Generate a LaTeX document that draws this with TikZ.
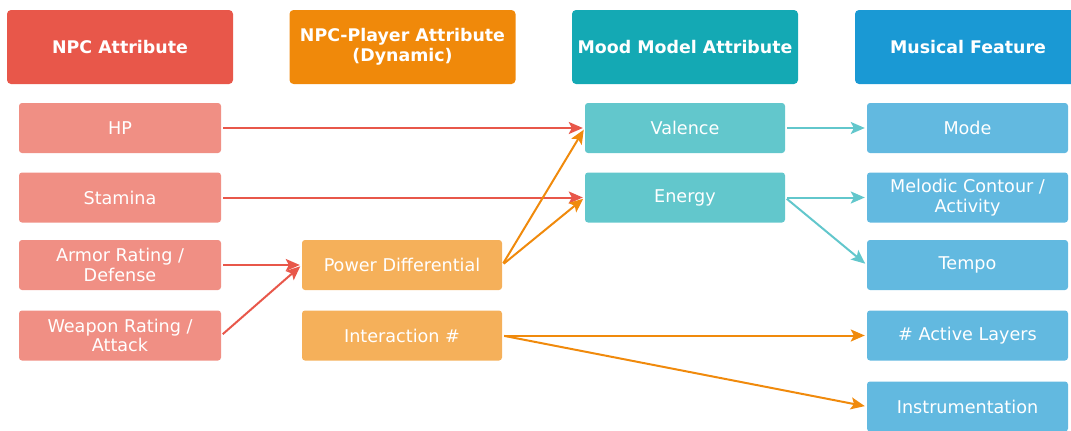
\documentclass[tikz,border=0pt]{standalone}
\usepackage{fontspec}
\setmainfont{DejaVu Sans}
\usetikzlibrary{arrows.meta}
\definecolor{npcHead}{HTML}{E8574A}
\definecolor{npcBox}{HTML}{F08F84}
\definecolor{dynHead}{HTML}{F0890A}
\definecolor{dynBox}{HTML}{F5B05A}
\definecolor{moodHead}{HTML}{14A9B4}
\definecolor{moodBox}{HTML}{62C7CC}
\definecolor{musHead}{HTML}{1A99D4}
\definecolor{musBox}{HTML}{62B9E0}
\definecolor{redLink}{HTML}{E8574A}
\definecolor{orangeLink}{HTML}{F08A0C}
\definecolor{tealLink}{HTML}{62C7CC}
\begin{document}
\begin{tikzpicture}[x=1pt,y=-1pt,
  head/.style={rectangle, rounded corners=4pt, minimum width=226pt, minimum height=74pt,
    text=white, font=\fontsize{17.4}{20}\selectfont\bfseries, align=center, inner sep=0pt},
  item/.style={rectangle, rounded corners=3pt, minimum width=202pt, minimum height=50pt,
    text=white, font=\fontsize{17.6}{19.5}\selectfont, align=center, inner sep=0pt},
  link/.style={line width=2pt, -{Stealth[length=14pt,width=12pt,inset=3pt]},
    shorten >=2pt, shorten <=2pt},
]
\useasboundingbox (0,0) rectangle (1071,431);

% column headers
\node[head, fill=npcHead]  (hNpc)  at (120,47)   {NPC Attribute};
\node[head, fill=dynHead]  (hDyn)  at (402.5,47) {NPC-Player Attribute\\(Dynamic)};
\node[head, fill=moodHead] (hMood) at (685,47)   {Mood Model Attribute};
\node[head, fill=musHead]  (hMus)  at (968,47)   {Musical Feature};

% NPC attributes
\node[item, fill=npcBox] (hp)      at (120,128)   {HP};
\node[item, fill=npcBox] (stamina) at (120,197.5) {Stamina};
\node[item, fill=npcBox] (armor)   at (120,265)   {Armor Rating /\\Defense};
\node[item, fill=npcBox] (weapon)  at (120,335.5) {Weapon Rating /\\Attack};

% NPC-player attributes
\node[item, fill=dynBox, minimum width=200pt] (power)    at (402,265)   {Power Differential};
\node[item, fill=dynBox, minimum width=200pt] (interact) at (402,335.5) {Interaction \#};

% mood model
\node[item, fill=moodBox, minimum width=200pt] (valence) at (685,128)   {Valence};
\node[item, fill=moodBox, minimum width=200pt] (energy)  at (685,197.5) {Energy};

% musical features
\node[item, fill=musBox, minimum width=201pt] (mode)    at (967.5,128)   {Mode};
\node[item, fill=musBox, minimum width=201pt] (melodic) at (967.5,197.5) {Melodic Contour /\\Activity};
\node[item, fill=musBox, minimum width=201pt] (tempo)   at (967.5,265)   {Tempo};
\node[item, fill=musBox, minimum width=201pt] (layers)  at (967.5,335.5) {\# Active Layers};
\node[item, fill=musBox, minimum width=201pt] (instr)   at (967.5,406.5) {Instrumentation};

% connectors
\draw[link, redLink] (hp.east) -- (valence.west);
\draw[link, redLink] (stamina.east) -- (energy.west);
\draw[link, redLink] (armor.east) -- (power.west);
\draw[link, redLink] (weapon.east) -- (power.west);

\draw[link, orangeLink] (power.east) -- (valence.west);
\draw[link, orangeLink] (power.east) -- (energy.west);
\draw[link, orangeLink] (interact.east) -- (layers.west);
\draw[link, orangeLink] (interact.east) -- (instr.west);

\draw[link, tealLink] (valence.east) -- (mode.west);
\draw[link, tealLink] (energy.east) -- (melodic.west);
\draw[link, tealLink] (energy.east) -- (tempo.west);
\end{tikzpicture}
\end{document}
